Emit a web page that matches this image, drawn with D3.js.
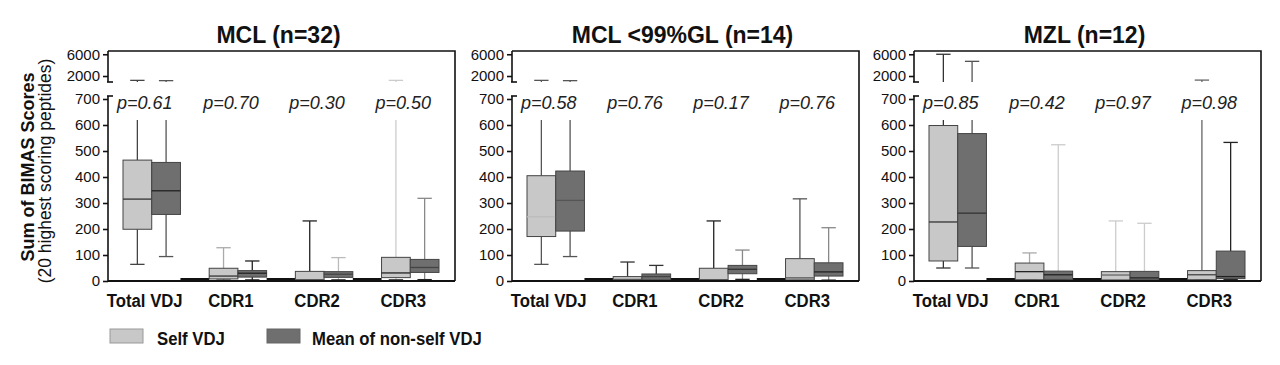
<!DOCTYPE html>
<html><head><meta charset="utf-8">
<script src="https://cdn.jsdelivr.net/npm/d3@7"></script>
<style>body{margin:0;background:#fff}svg{display:block;font-family:"Liberation Sans",Arial,sans-serif}</style>
</head><body><svg id="c" width="1280" height="365"></svg>
<script>
// ---- data ----
const panelTitles = ["MCL (n=32)", "MCL <99%GL (n=14)", "MZL (n=12)"];
const categories = ["Total VDJ", "CDR1", "CDR2", "CDR3"];
const seriesNames = ["Self VDJ", "Mean of non-self VDJ"];
const pValues = [
  ["p=0.61", "p=0.70", "p=0.30", "p=0.50"],
  ["p=0.58", "p=0.76", "p=0.17", "p=0.76"],
  ["p=0.85", "p=0.42", "p=0.97", "p=0.98"]
];
// box stats: [min, q1, median, q3, max] per category
const mclSelf    = [[64,199,315,465,1200],[2,8,19,49,128],[1,3,5,37,231],[3,13,31,91,1200]];
const mclNonSelf = [[94,256,347,456,1150],[3,15,30,40,77],[3,14,26,36,90],[4,33,52,83,318]];
const glSelf     = [[64,171,247,405,1200],[1,3,6,17,73],[1,3,5,49,231],[2,4,12,86,316]];
const glNonSelf  = [[94,192,310,423,1150],[2,4,17,27,60],[5,28,45,60,119],[2,19,35,70,205]];
const mzlSelf    = [[50,77,227,598,6000],[2,5,36,69,108],[1,4,23,36,231],[2,5,24,40,1250]];
const mzlNonSelf = [[50,133,261,567,4700],[2,6,24,38,524],[2,4,12,37,222],[4,9,17,115,533]];
const lowerTicks = [0,100,200,300,400,500,600,700];
const upperTicks = [2000, 6000];

// ---- styles (kept apart from data) ----
const fills = ["#c8c8c8", "#6f6f6f"];
const whiskerShade = [
  [["#444","#555"],["#aaa","#222"],["#222","#bbb"],["#ccc","#888"]],
  [["#555","#555"],["#333","#333"],["#222","#888"],["#555","#888"]],
  [["#333","#555"],["#aaa","#ccc"],["#ccc","#ccc"],["#666","#222"]]
];
const medianShade = [
  [["#333","#222"],["#333","#222"],["#555","#444"],["#222","#444"]],
  [["#bbb","#555"],["#555","#444"],["#555","#333"],["#555","#222"]],
  [["#333","#333"],["#222","#222"],["#666","#222"],["#444","#222"]]
];
const panelData = [[mclSelf, mclNonSelf],[glSelf, glNonSelf],[mzlSelf, mzlNonSelf]];

const svg = d3.select("#c");
const panelX = [108, 512, 914];
const W = 347, plotTop = 51, plotBottom = 281;
const SQ = 0.88; // horizontal condensing of bold labels

function condensedText(parent, x, y, txt, size, anchor) {
  return parent.append("text")
    .attr("transform", `translate(${x},${y}) scale(${SQ},1)`)
    .attr("text-anchor", anchor).attr("font-size", size).attr("font-weight", "bold")
    .attr("fill", "#111").text(txt);
}

panelTitles.forEach((title, pi) => {
  const x0 = panelX[pi];
  const g = svg.append("g");
  const yLow = d3.scaleLinear().domain([0, 700]).range([plotBottom, 99]);
  const yUp = d3.scaleLinear().domain([900, 6600]).range([82, plotTop]);
  const x = d3.scaleBand().domain(d3.range(11)).range([x0 + 15, x0 + W - 16]).paddingInner(0);
  const bw = x.bandwidth();

  [2, 5, 8].forEach(s => {
    g.append("line").attr("x1", x(s)).attr("x2", x(s) + bw)
      .attr("y1", yLow(0) - 1.5).attr("y2", yLow(0) - 1.5)
      .attr("stroke", "#111").attr("stroke-width", 3);
  });

  categories.forEach((cat, ci) => {
    [0, 1].forEach(si => {
      const [mn, q1, md, q3, mx] = panelData[pi][si][ci];
      const slot = ci * 3 + si;
      const bx = x(slot), cx = bx + bw / 2;
      const wc = whiskerShade[pi][ci][si];
      const capW = bw * 0.5;
      g.append("line").attr("x1", cx).attr("x2", cx)
        .attr("y1", yLow(q3)).attr("y2", yLow(Math.min(mx, 700)))
        .attr("stroke", wc).attr("stroke-width", 1.3);
      if (mx > 700) {
        g.append("line").attr("x1", cx).attr("x2", cx)
          .attr("y1", yUp(900)).attr("y2", yUp(mx))
          .attr("stroke", wc).attr("stroke-width", 1.3);
        g.append("line").attr("x1", cx - capW / 2).attr("x2", cx + capW / 2)
          .attr("y1", yUp(mx)).attr("y2", yUp(mx))
          .attr("stroke", wc).attr("stroke-width", 1.3);
      } else {
        g.append("line").attr("x1", cx - capW / 2).attr("x2", cx + capW / 2)
          .attr("y1", yLow(mx)).attr("y2", yLow(mx))
          .attr("stroke", wc).attr("stroke-width", 1.3);
      }
      g.append("line").attr("x1", cx).attr("x2", cx)
        .attr("y1", yLow(q1)).attr("y2", yLow(mn))
        .attr("stroke", wc).attr("stroke-width", 1.3);
      g.append("line").attr("x1", cx - capW / 2).attr("x2", cx + capW / 2)
        .attr("y1", yLow(mn)).attr("y2", yLow(mn))
        .attr("stroke", ci === 0 ? wc : "#222").attr("stroke-width", ci === 0 ? 1.3 : 2);
      g.append("rect").attr("x", bx).attr("y", yLow(q3))
        .attr("width", bw).attr("height", Math.max(1, yLow(q1) - yLow(q3)))
        .attr("fill", fills[si]).attr("stroke", "#444").attr("stroke-width", 1);
      g.append("line").attr("x1", bx).attr("x2", bx + bw)
        .attr("y1", yLow(md)).attr("y2", yLow(md))
        .attr("stroke", medianShade[pi][ci][si]).attr("stroke-width", 1.3);
    });

    const px = x(ci * 3 + 1) - 7;
    const t = g.append("text").attr("x", px).attr("y", 109)
      .attr("text-anchor", "middle").attr("font-size", 18).attr("font-style", "italic")
      .attr("fill", "#222").text(pValues[pi][ci]);
    const bb = t.node().getBBox();
    g.insert("rect", () => t.node()).attr("x", bb.x - 2).attr("y", 96)
      .attr("width", bb.width + 4).attr("height", 24).attr("fill", "#fff");

    condensedText(g, x(ci * 3 + 1) - 7, 306.5, cat, 19, "middle");
  });

  g.append("path").attr("d", `M${x0},${plotTop}H${x0 + W}V${plotBottom}`)
    .attr("fill", "none").attr("stroke", "#111").attr("stroke-width", 1.6);
  g.append("line").attr("x1", x0).attr("x2", x0 + W).attr("y1", plotBottom).attr("y2", plotBottom)
    .attr("stroke", "#111").attr("stroke-width", 2.2);

  const axLow = g.append("g").attr("transform", `translate(${x0},0)`)
    .call(d3.axisLeft(yLow).tickValues(lowerTicks).tickSize(5).tickPadding(3).tickFormat(d3.format("d")));
  const axUp = g.append("g").attr("transform", `translate(${x0},0)`)
    .call(d3.axisLeft(yUp).tickValues(upperTicks).tickSize(5).tickPadding(3).tickFormat(d3.format("d")));
  [axLow, axUp].forEach(a => {
    a.select(".domain").remove();
    a.selectAll("line").attr("stroke", "#111").attr("stroke-width", 1.6);
    a.selectAll("text").attr("font-size", 15).attr("fill", "#111")
      .attr("font-family", "'Liberation Sans',Arial,sans-serif");
  });
  g.append("line").attr("x1", x0).attr("x2", x0).attr("y1", plotTop).attr("y2", 82)
    .attr("stroke", "#111").attr("stroke-width", 1.6);
  g.append("line").attr("x1", x0 - 1).attr("x2", x0 + 5).attr("y1", 82).attr("y2", 82)
    .attr("stroke", "#111").attr("stroke-width", 1.6);
  g.append("line").attr("x1", x0).attr("x2", x0).attr("y1", 96).attr("y2", plotBottom)
    .attr("stroke", "#111").attr("stroke-width", 1.6);
  g.append("line").attr("x1", x0 - 1).attr("x2", x0 + 5).attr("y1", 96).attr("y2", 96)
    .attr("stroke", "#111").attr("stroke-width", 1.6);

  svg.append("text").attr("x", x0 + W / 2 - 3).attr("y", 43).attr("text-anchor", "middle")
    .attr("font-size", 23).attr("font-weight", "bold").attr("fill", "#111").text(title);
});

svg.append("text").attr("transform", "translate(33.5,167) rotate(-90)")
  .attr("text-anchor", "middle").attr("font-size", 18).attr("font-weight", "bold")
  .attr("fill", "#111").text("Sum of BIMAS Scores");
svg.append("text").attr("transform", "translate(51,171) rotate(-90)")
  .attr("text-anchor", "middle").attr("font-size", 17.5)
  .attr("fill", "#111").text("(20 highest scoring peptides)");

const legX = [110, 267], legTX = [157, 312];
seriesNames.forEach((s, i) => {
  svg.append("rect").attr("x", legX[i]).attr("y", 329).attr("width", 33).attr("height", 14)
    .attr("fill", fills[i]).attr("stroke", i === 0 ? "#999" : "#666").attr("stroke-width", 1);
  condensedText(svg, legTX[i], 345, s, 19, "start");
});
</script></body></html>
